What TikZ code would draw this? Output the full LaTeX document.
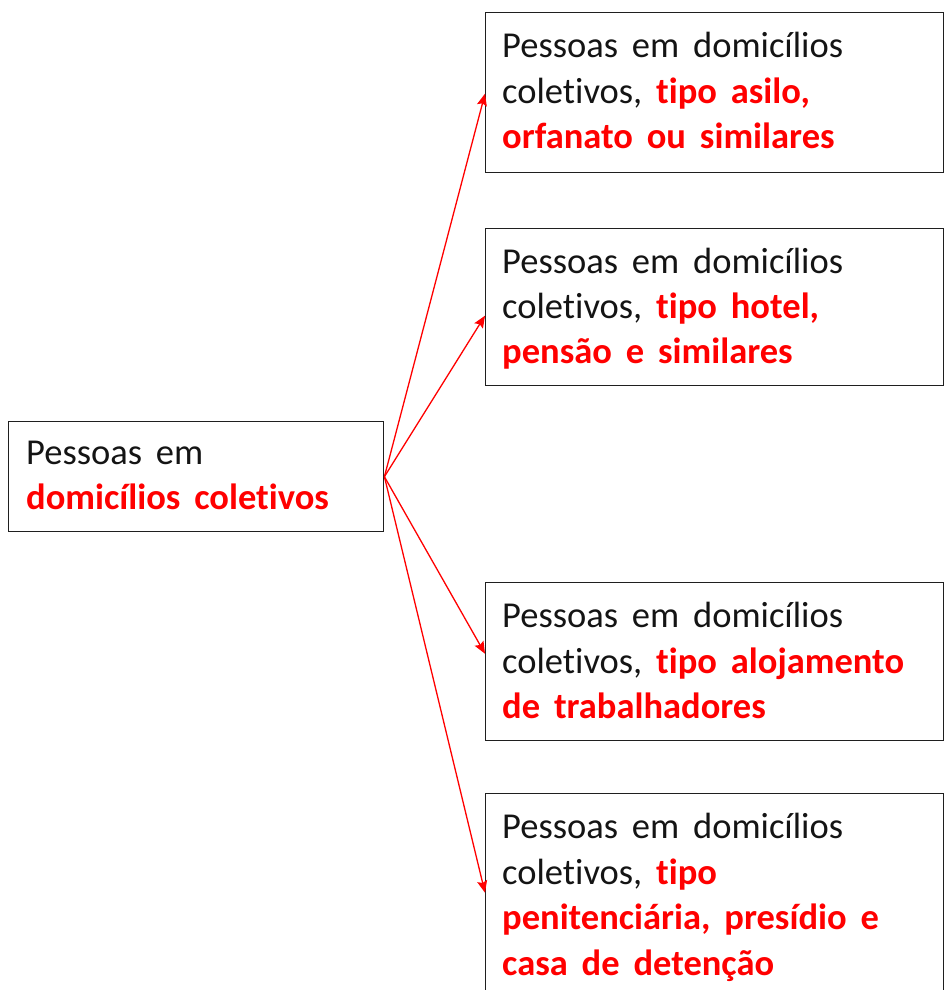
\documentclass[tikz,border=0pt]{standalone}
\usepackage{fontspec}
\setmainfont{Carlito}[Ligatures=NoCommon]
\usetikzlibrary{arrows.meta}
\definecolor{hired}{HTML}{FF0000}
\definecolor{txtblack}{HTML}{141414}
\newcommand{\hlred}[1]{\textbf{\color{hired}#1}}
\newcommand{\widesp}{\spaceskip=0.38em plus 0.1em\relax}
\begin{document}
\begin{tikzpicture}[x=1pt,y=-1pt,
  box/.style={draw=black!88, line width=1.4pt, rectangle, inner sep=0pt, anchor=north west},
  ln/.style={anchor=base west, inner sep=0pt, text=txtblack,
    font=\fontsize{36.5}{46}\selectfont, execute at begin node=\widesp},
  conn/.style={draw=hired, line width=1.3pt, -{Stealth[length=12pt,width=10pt,inset=2pt]}}]
\useasboundingbox (0,0) rectangle (944,990);

% boxes
\node[box, minimum width=375pt, minimum height=110pt] (L) at (8,421) {};
\node[box, minimum width=458pt, minimum height=160pt] (b1) at (485,12) {};
\node[box, minimum width=458pt, minimum height=157pt] (b2) at (485,228) {};
\node[box, minimum width=458pt, minimum height=158pt] (b3) at (485,582) {};
\node[box, minimum width=458pt, minimum height=198pt] (b4) at (485,793) {};

% left box text
\node[ln] (l1) at (26,464) {Pessoas em};
\node[ln] (l2) at (26,509) {\hlred{domicílios coletivos}};

% box 1
\node[ln] (a1) at (502,57) {Pessoas em domicílios};
\node[ln] (a2) at (502,103) {coletivos, \hlred{tipo asilo,}};
\node[ln] (a3) at (502,148) {\hlred{orfanato ou similares}};

% box 2
\node[ln] (c1) at (502,273) {Pessoas em domicílios};
\node[ln] (c2) at (502,318) {coletivos, \hlred{tipo hotel,}};
\node[ln] (c3) at (502,363) {\hlred{pensão e similares}};

% box 3
\node[ln] (d1) at (502,627) {Pessoas em domicílios};
\node[ln] (d2) at (502,673) {coletivos, \hlred{tipo alojamento}};
\node[ln] (d3) at (502,718) {\hlred{de trabalhadores}};

% box 4
\node[ln] (e1) at (502,838) {Pessoas em domicílios};
\node[ln] (e2) at (502,884) {coletivos, \hlred{tipo}};
\node[ln] (e3) at (502,929) {\hlred{penitenciária, presídio e}};
\node[ln] (e4) at (502,975) {\hlred{casa de detenção}};

% connectors
\draw[conn] (L.east) -- ([yshift=-1pt]b1.west);
\draw[conn] (L.east) -- ([yshift=-8.5pt]b2.west);
\draw[conn] (L.east) -- ([yshift=8pt]b3.west);
\draw[conn] (L.east) -- (b4.west);
\end{tikzpicture}
\end{document}
